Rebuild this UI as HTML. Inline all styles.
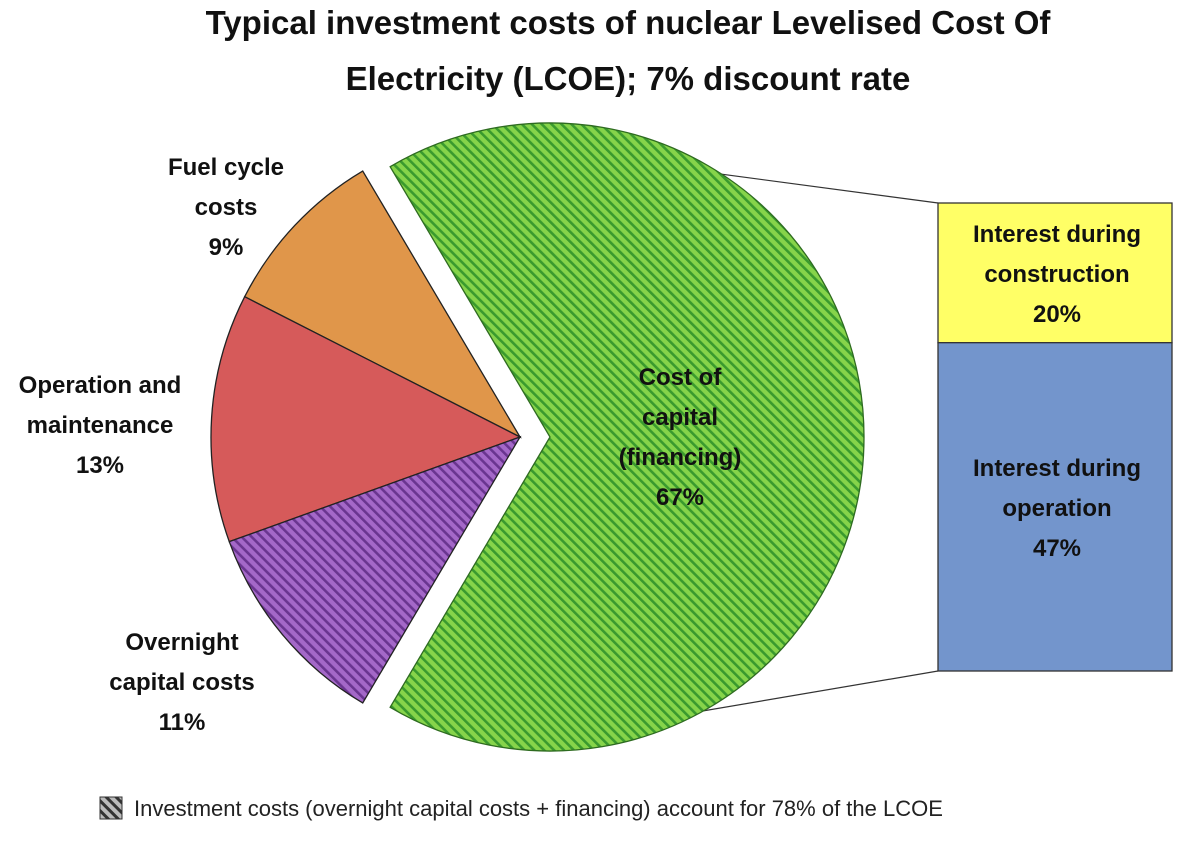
<!DOCTYPE html>
<html><head><meta charset="utf-8"><style>
body{margin:0;background:#fff;width:1200px;height:836px;overflow:hidden}
svg text{font-family:"Liberation Sans",sans-serif}
</style></head><body>
<svg id="c" width="1200" height="836">
<defs>
<pattern id="hg" width="7" height="7" patternUnits="userSpaceOnUse" patternTransform="rotate(-45)">
<rect width="7" height="7" fill="#86d44a"/><rect width="2.6" height="7" fill="#3a9a2e"/></pattern>
<pattern id="hp" width="7" height="7" patternUnits="userSpaceOnUse" patternTransform="rotate(-45)">
<rect width="7" height="7" fill="#a468c8"/><rect width="2.6" height="7" fill="#6a3590"/></pattern>
<pattern id="hk" width="7" height="7" patternUnits="userSpaceOnUse" patternTransform="rotate(-45)">
<rect width="7" height="7" fill="#bbb"/><rect width="3" height="7" fill="#333"/></pattern>
</defs>
<text x="628" y="34" text-anchor="middle" font-size="33" font-weight="bold" fill="#111">Typical investment costs of nuclear Levelised Cost Of</text>
<text x="628" y="90" text-anchor="middle" font-size="33" font-weight="bold" fill="#111">Electricity (LCOE); 7% discount rate</text>
<g id="conn"></g>
<g id="pie"></g>
<g id="bar"></g>
<rect x="100" y="797" width="22" height="22" fill="url(#hk)" stroke="#333"/>
<text x="134" y="816" font-size="22" fill="#222">Investment  costs (overnight  capital costs + financing) account for 78% of the LCOE</text>
</svg>
<script>
const sliceNames=["Cost of capital (financing)","Fuel cycle costs","Operation and maintenance","Overnight capital costs"];
const sliceValues=[67,9,13,11];
const barNames=["Interest during construction","Interest during operation"];
const barValues=[20,47];
const ns="http://www.w3.org/2000/svg";
const cx=520,cy=437,R=309,explode=30,RG=314;
const fills=["url(#hg)","#e0964a","#d65a5a","url(#hp)"];
const pie=document.getElementById('pie');
const total=sliceValues.reduce((a,b)=>a+b,0);
let start=-sliceValues[0]/total*180;
function pt(x,y,a,r){return [x+r*Math.cos(a*Math.PI/180),y-r*Math.sin(a*Math.PI/180)];}
let greenPts=null;
sliceValues.forEach((v,i)=>{
  const sw=v/total*360,end=start+sw;
  const ox=i===0?explode:0, r=i===0?RG:R;
  const x=cx+ox,y=cy;
  const p1=pt(x,y,start,r),p2=pt(x,y,end,r);
  const p=document.createElementNS(ns,'path');
  p.setAttribute('d',`M${x},${y}L${p1[0]},${p1[1]}A${r},${r} 0 ${sw>180?1:0} 0 ${p2[0]},${p2[1]}Z`);
  p.setAttribute('fill',fills[i]);
  p.setAttribute('stroke',i===0?'#2e6b20':'#222');
  p.setAttribute('stroke-width','1.3');
  
  
  pie.appendChild(p);
  if(i===0)greenPts={x,y};
  start=end;
});
const labels=[
 {lines:["Cost of","capital","(financing)",sliceValues[0]+"%"],x:680,y:385},
 {lines:["Fuel cycle","costs",sliceValues[1]+"%"],x:226,y:175},
 {lines:["Operation and","maintenance",sliceValues[2]+"%"],x:100,y:393},
 {lines:["Overnight","capital costs",sliceValues[3]+"%"],x:182,y:650}];
labels.forEach((l,i)=>{
  const t=document.createElementNS(ns,'text');
  t.setAttribute('text-anchor','middle');t.setAttribute('font-size','24');t.setAttribute('font-weight','bold');t.setAttribute('fill','#111');
  
  
  l.lines.forEach((s,j)=>{const ts=document.createElementNS(ns,'tspan');ts.setAttribute('x',l.x);ts.setAttribute('y',l.y+j*40);ts.textContent=s;t.appendChild(ts);});
  pie.appendChild(t);
});
const bar=document.getElementById('bar');
const bx=938,bw=234,by=203,bh=468;
const bsum=barValues.reduce((a,b)=>a+b,0);
const bcol=["#ffff66","#7395cc"];
let yy=by;
barValues.forEach((v,i)=>{
  const h=v/bsum*bh;
  const r=document.createElementNS(ns,'rect');
  r.setAttribute('x',bx);r.setAttribute('y',yy);r.setAttribute('width',bw);r.setAttribute('height',h);
  r.setAttribute('fill',bcol[i]);r.setAttribute('stroke','#333');r.setAttribute('stroke-width','1.3');
  
  
  bar.appendChild(r);
  const words=barNames[i].split(' ');
  const lines=[words.slice(0,2).join(' '),words.slice(2).join(' '),v+"%"];
  const t=document.createElementNS(ns,'text');
  t.setAttribute('text-anchor','middle');t.setAttribute('font-size','24');t.setAttribute('font-weight','bold');t.setAttribute('fill','#111');
  
  
  const ty=yy+h/2-40+9;
  lines.forEach((s,j)=>{const ts=document.createElementNS(ns,'tspan');ts.setAttribute('x',bx+bw/2+2);ts.setAttribute('y',ty+j*40);ts.textContent=s;t.appendChild(ts);});
  bar.appendChild(t);
  yy+=h;
});
const conn=document.getElementById('conn');
const a1=pt(greenPts.x,greenPts.y,108,RG),a2=pt(greenPts.x,greenPts.y,-100,RG);
[[a1,[bx,by]],[a2,[bx,by+bh]]].forEach((s,i)=>{
  const l=document.createElementNS(ns,'line');
  l.setAttribute('x1',s[0][0]);l.setAttribute('y1',s[0][1]);l.setAttribute('x2',s[1][0]);l.setAttribute('y2',s[1][1]);
  l.setAttribute('stroke','#333');l.setAttribute('stroke-width','1.2');
  
  
  conn.appendChild(l);
});
</script>
</body></html>
